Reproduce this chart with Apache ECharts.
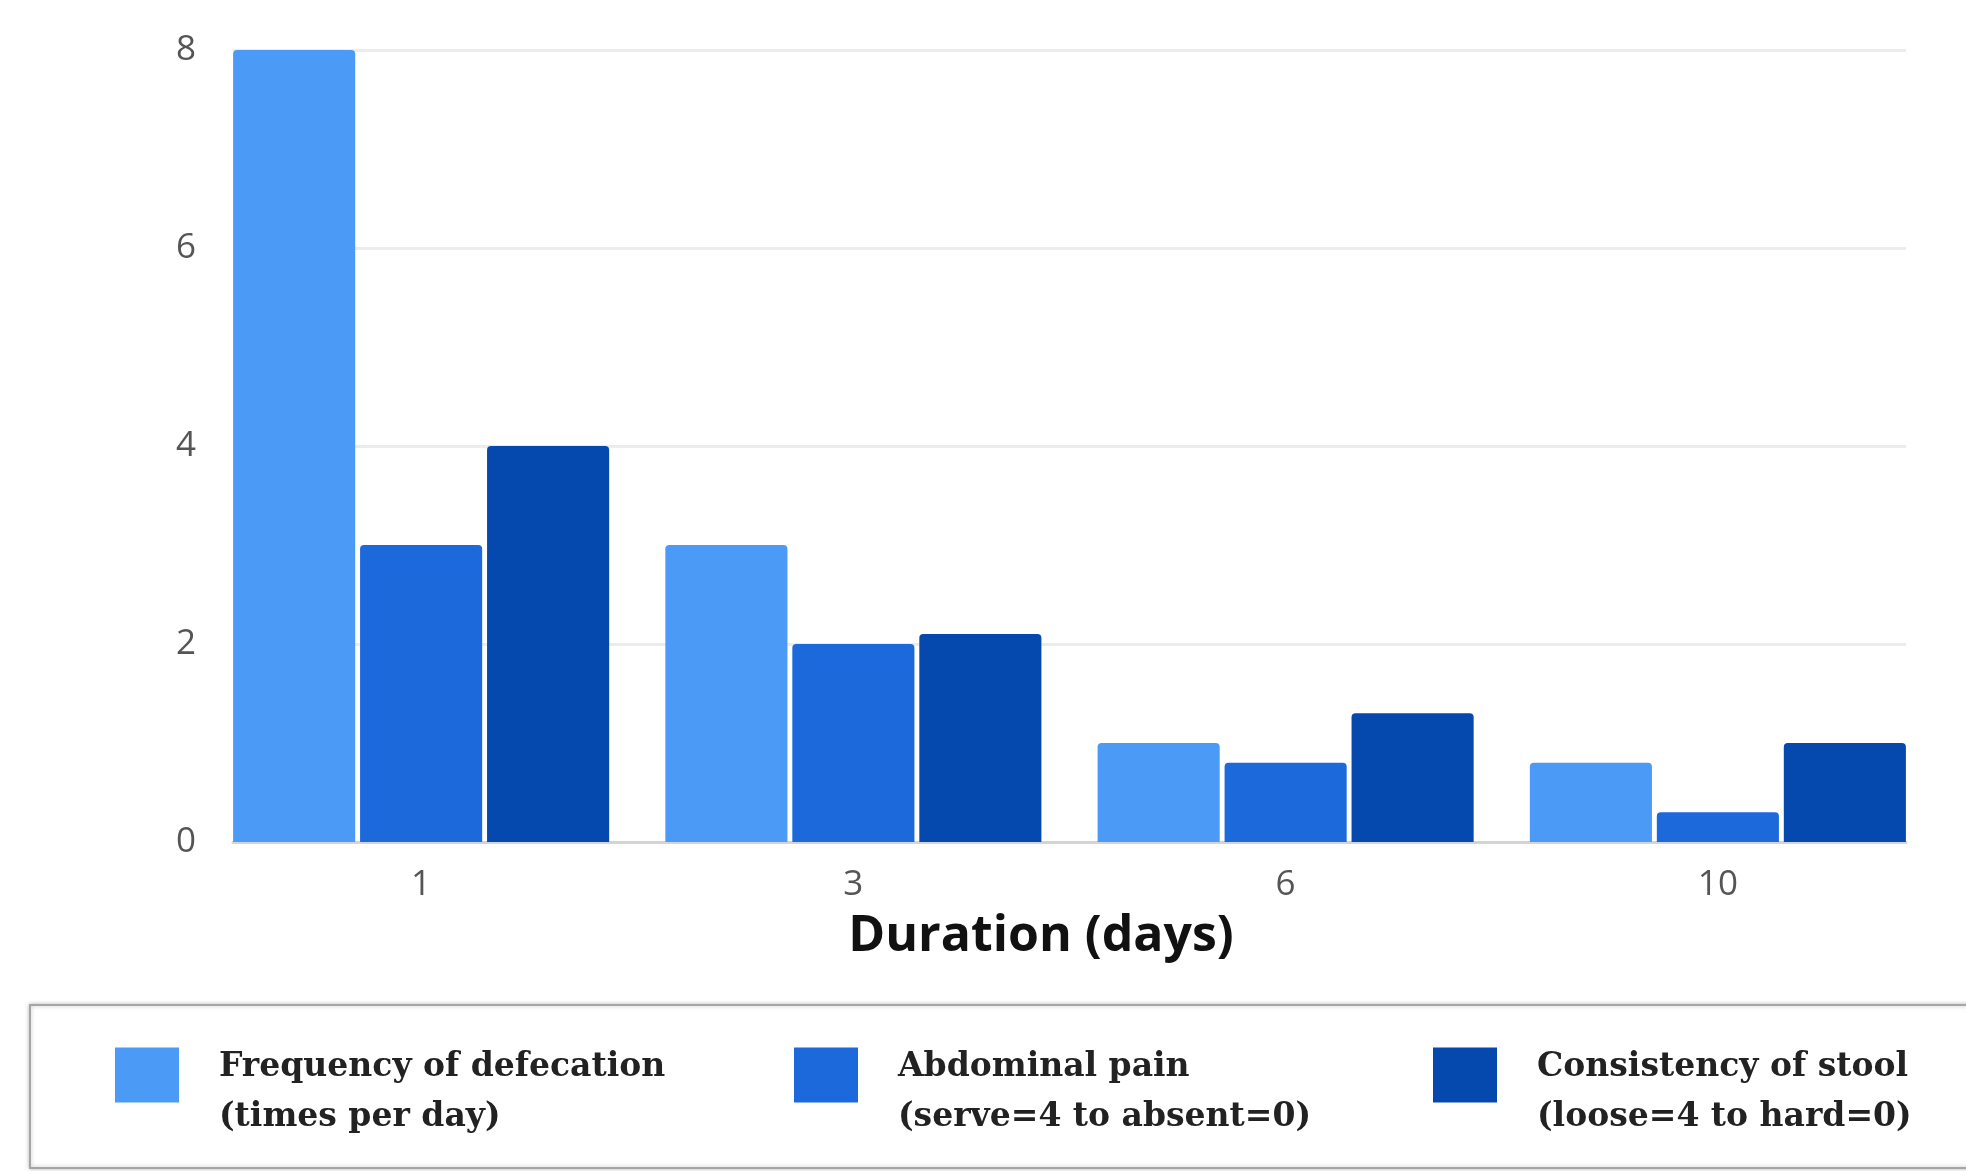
<!DOCTYPE html>
<html>
<head>
<meta charset="utf-8">
<script src="https://cdn.jsdelivr.net/npm/echarts@6/dist/echarts.min.js"></script>
<style>
  html, body { margin: 0; padding: 0; background: #fff; }
  #chart { width: 1966px; height: 1171px; }
</style>
</head>
<body>
<div id="chart"></div>
<script>
// data
var days = ['1', '3', '6', '10']
var seriesNames = ['Frequency of defecation', 'Abdominal pain', 'Consistency of stool']
var seriesNotes = ['(times per day)', '(serve=4 to absent=0)', '(loose=4 to hard=0)']
var frequency = [8, 3, 1, 0.8]
var pain = [3, 2, 0.8, 0.3]
var consistency = [4, 2.1, 1.3, 1]
var yTicks = [0, 2, 4, 6, 8]
var colors = ['#4b9bf6', '#1c69db', '#0549ae']

var chart = echarts.init(document.getElementById('chart'))

function makeLegend(i, left) {
  return {
    data: [seriesNames[i]],
    left: left,
    top: 1020,
    padding: 0,
    icon: 'rect',
    itemWidth: 64,
    itemHeight: 55,
    itemStyle: { borderWidth: 0 },
    formatter: function (name) {
      // small empty first line pushes the two text lines down next to the swatch
      return '{s| }\n{t|' + name + '}\n{t|' + seriesNotes[seriesNames.indexOf(name)] + '}'
    },
    textStyle: {
      padding: [0, 0, 0, 35],
      rich: {
        s: { fontSize: 10, lineHeight: 35 },
        t: {
          fontFamily: 'DejaVu Serif',
          fontWeight: 'bold',
          fontSize: 33,
          lineHeight: 50,
          color: '#222'
        }
      }
    }
  }
}

function makeBar(i, values) {
  return {
    name: seriesNames[i],
    type: 'bar',
    xAxisIndex: 0,
    yAxisIndex: 0,
    data: values,
    barGap: '4%',
    barCategoryGap: '13%',
    itemStyle: { color: colors[i], borderRadius: [4, 4, 0, 0] }
  }
}

var option = {
  animation: false,
  color: colors,
  grid: [
    // bars
    { left: 205, right: 32, top: 50, height: 792 },
    // grid lines and baseline, as wide as the bars
    { left: 233, right: 60, top: 50, height: 792 }
  ],
  xAxis: [
    {
      type: 'category',
      gridIndex: 0,
      data: days,
      axisLine: { show: false },
      axisTick: { show: false },
      axisLabel: {
        margin: 26,
        fontFamily: 'Open Sans',
        fontSize: 35,
        color: '#555'
      }
    },
    {
      type: 'value',
      gridIndex: 1,
      min: 0,
      max: 1,
      axisLine: { show: true, lineStyle: { color: '#d4d4d4', width: 3 } },
      axisTick: { show: false },
      axisLabel: { show: false },
      splitLine: { show: false }
    }
  ],
  yAxis: [
    {
      type: 'value',
      gridIndex: 0,
      min: 0,
      max: yTicks[yTicks.length - 1],
      interval: 2,
      axisLine: { show: false },
      axisTick: { show: false },
      axisLabel: { show: false },
      splitLine: { show: false }
    },
    {
      type: 'value',
      gridIndex: 1,
      min: 0,
      max: yTicks[yTicks.length - 1],
      interval: 2,
      axisLine: { show: false },
      axisTick: { show: false },
      axisLabel: {
        margin: 37,
        fontFamily: 'Open Sans',
        fontSize: 35,
        color: '#555'
      },
      splitLine: { lineStyle: { color: '#ececec', width: 3 } }
    }
  ],
  legend: [
    makeLegend(0, 115),
    makeLegend(1, 794),
    makeLegend(2, 1433)
  ],
  graphic: [
    {
      type: 'rect',
      z: -1,
      shape: { x: 30, y: 1005, width: 1960, height: 163 },
      style: {
        fill: '#fff',
        stroke: '#a5a5a5',
        lineWidth: 2,
        shadowBlur: 4,
        shadowColor: 'rgba(0,0,0,0.25)'
      }
    },
    {
      type: 'text',
      x: 1041,
      y: 937,
      style: {
        text: 'Duration (days)',
        align: 'center',
        verticalAlign: 'middle',
        fontFamily: 'Open Sans',
        fontWeight: 'bold',
        fontSize: 50,
        fill: '#111'
      }
    }
  ],
  series: [
    makeBar(0, frequency),
    makeBar(1, pain),
    makeBar(2, consistency)
  ]
}

chart.setOption(option)
</script>
</body>
</html>
